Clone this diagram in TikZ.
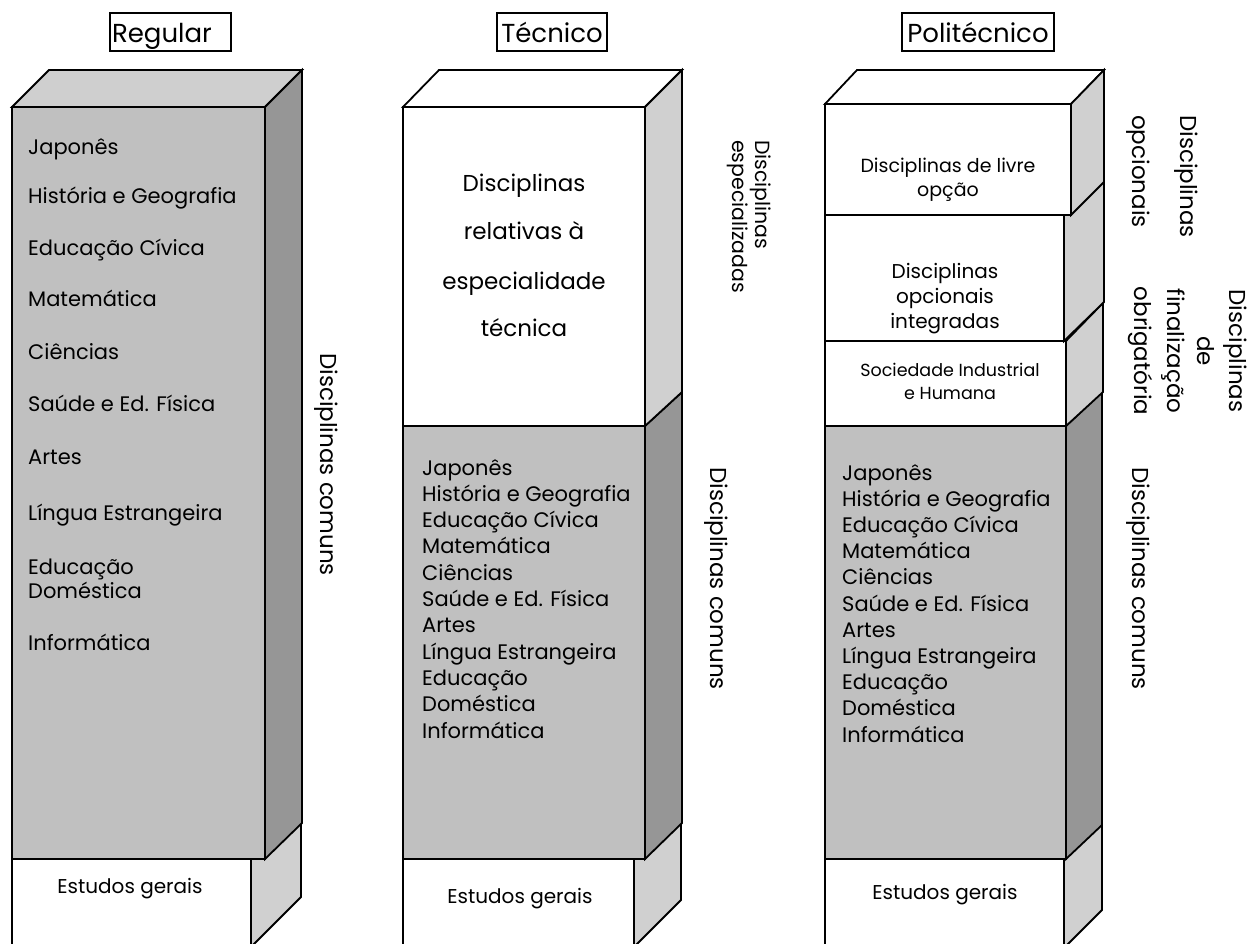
\documentclass[tikz,border=0pt]{standalone}
\usepackage{fontspec}
\setmainfont{Poppins}
\definecolor{frontgray}{HTML}{C0C0C0}
\definecolor{topgray}{HTML}{CFCFCF}
\definecolor{sidegray}{HTML}{D0D0D0}
\definecolor{darkside}{HTML}{969696}
\begin{document}
\begin{tikzpicture}[x=1pt,y=-1pt,
  face/.style={draw=black, line width=1.8pt, line join=miter},
  titlebox/.style={draw=black, line width=1.6pt, font=\fontsize{26}{28}\selectfont, inner xsep=1pt, inner ysep=0pt, text height=30pt, text depth=8pt},
  lst/.style={font=\fontsize{21}{21}\selectfont, anchor=base west, inner sep=0pt},
  blk/.style={align=center, inner sep=0pt, anchor=base},
  rot/.style={rotate=-90, inner sep=0pt, font=\fontsize{23}{23}\selectfont}
]
\useasboundingbox (0,0) rectangle (1248,944);
\begin{scope}
\clip (0,0) rectangle (1248,944);
% ---------------- Regular
\filldraw[face, fill=white] (12,859) rectangle (251,990);
\filldraw[face, fill=sidegray] (251,859) -- (301,809) -- (301,897) -- (251,947) -- cycle;
\filldraw[face, fill=frontgray] (12,107) rectangle (265,859);
\filldraw[face, fill=topgray] (12,107) -- (49,70) -- (302,70) -- (265,107) -- cycle;
\filldraw[face, fill=darkside] (265,107) -- (302,70) -- (302,823) -- (265,859) -- cycle;
% ---------------- Tecnico
\filldraw[face, fill=white] (403,859) rectangle (634,990);
\filldraw[face, fill=sidegray] (634,859) -- (681,812) -- (681,900) -- (634,947) -- cycle;
\filldraw[face, fill=frontgray] (403,426) rectangle (645,859);
\filldraw[face, fill=darkside] (645,426) -- (682,392) -- (682,823) -- (645,859) -- cycle;
\filldraw[face, fill=white] (403,107) rectangle (645,426);
\filldraw[face, fill=white] (403,107) -- (439,70) -- (682,70) -- (645,107) -- cycle;
\filldraw[face, fill=sidegray] (645,107) -- (682,70) -- (682,392) -- (645,426) -- cycle;
% ---------------- Politecnico
\filldraw[face, fill=white] (825,859) rectangle (1064,990);
\filldraw[face, fill=sidegray] (1064,859) -- (1102,821) -- (1102,910) -- (1064,948) -- cycle;
\filldraw[face, fill=frontgray] (825,426) rectangle (1066,859);
\filldraw[face, fill=darkside] (1066,426) -- (1102,392) -- (1102,825) -- (1066,859) -- cycle;
\filldraw[face, fill=white] (825,341) rectangle (1066,426);
\filldraw[face, fill=sidegray] (1066,341) -- (1103,303) -- (1103,392) -- (1066,426) -- cycle;
\filldraw[face, fill=white] (825,215) rectangle (1064,341);
\filldraw[face, fill=sidegray] (1064,215) -- (1104,176) -- (1104,302) -- (1064,341) -- cycle;
\filldraw[face, fill=white] (825,104) rectangle (1071,215);
\filldraw[face, fill=white] (825,104) -- (857,70) -- (1104,70) -- (1071,104) -- cycle;
\filldraw[face, fill=sidegray] (1071,104) -- (1104,70) -- (1104,182) -- (1071,215) -- cycle;
\end{scope}

% ---------------- titles
\node[titlebox, minimum width=121pt, text width=117pt, align=left] (tReg) at (170.5,32) {Regular};
\node[titlebox, minimum width=110pt] (tTec) at (552,32) {Técnico};
\node[titlebox, minimum width=152pt] (tPol) at (978,32) {Politécnico};

% ---------------- Regular list
\node[lst] (r1) at (28,155) {Japonês};
\node[lst] (r2) at (28,204) {História e Geografia};
\node[lst] (r3) at (28,255) {Educação Cívica};
\node[lst] (r4) at (28,306) {Matemática};
\node[lst] (r5) at (28,359) {Ciências};
\node[lst] (r6) at (28,411) {Saúde e Ed. Física};
\node[lst] (r7) at (28,464) {Artes};
\node[lst] (r8) at (28,520) {Língua Estrangeira};
\node[lst] (r9) at (28,574) {Educação};
\node[lst] (r10) at (28,598) {Doméstica};
\node[lst] (r11) at (28,650) {Informática};

% ---------------- Tecnico / Politecnico lists
\foreach \t [count=\i] in {Japonês, História e Geografia, Educação Cívica, Matemática, Ciências, Saúde e Ed. Física, Artes, Língua Estrangeira, Educação, Doméstica, Informática}{
  \node[lst] (t\i) at (422,{475+26.3*(\i-1)}) {\t};
  \node[lst] (p\i) at (842,{480+26.2*(\i-1)}) {\t};
}

% ---------------- block texts
\node[blk, font=\fontsize{23}{23}\selectfont] (tb1) at (524,192) {Disciplinas};
\node[blk, font=\fontsize{23}{23}\selectfont] (tb2) at (524,240) {relativas à};
\node[blk, font=\fontsize{23}{23}\selectfont] (tb3) at (524,289) {especialidade};
\node[blk, font=\fontsize{23}{23}\selectfont] (tb4) at (524,336) {técnica};

\node[blk, font=\fontsize{19}{19}\selectfont] (pa1) at (948,173) {Disciplinas de livre};
\node[blk, font=\fontsize{19}{19}\selectfont] (pa2) at (948,197) {opção};
\node[blk, font=\fontsize{20}{20}\selectfont] (pb1) at (945,278) {Disciplinas};
\node[blk, font=\fontsize{20}{20}\selectfont] (pb2) at (945,303) {opcionais};
\node[blk, font=\fontsize{20}{20}\selectfont] (pb3) at (945,328) {integradas};
\node[blk, font=\fontsize{17.5}{17.5}\selectfont] (pc1) at (950,376) {Sociedade Industrial};
\node[blk, font=\fontsize{17.5}{17.5}\selectfont] (pc2) at (950,399) {e Humana};

\node[blk, font=\fontsize{20}{20}\selectfont] (e1) at (130,893) {Estudos gerais};
\node[blk, font=\fontsize{20}{20}\selectfont] (e2) at (520,903) {Estudos gerais};
\node[blk, font=\fontsize{20}{20}\selectfont] (e3) at (945,899) {Estudos gerais};

% ---------------- rotated labels
\node[rot, anchor=base west] (lr) at (320,353) {Disciplinas comuns};
\node[rot, anchor=base west] (lt) at (710,467) {Disciplinas comuns};
\node[rot, anchor=base west] (lp) at (1132,467) {Disciplinas comuns};

\node[rot, anchor=base west, font=\fontsize{20.5}{20.5}\selectfont] (le1) at (755,140) {Disciplinas};
\node[rot, anchor=base west, font=\fontsize{20.5}{20.5}\selectfont] (le2) at (732,140) {especializadas};

\node[rot, anchor=base west] (lo1) at (1180,115) {Disciplinas};
\node[rot, anchor=base west] (lo2) at (1132,115) {opcionais};

\node[rot, anchor=base] (lf1) at (1229,351) {Disciplinas};
\node[rot, anchor=base] (lf2) at (1197,351) {de};
\node[rot, anchor=base] (lf3) at (1167,351) {finalização};
\node[rot, anchor=base] (lf4) at (1134,351) {obrigatória};
\end{tikzpicture}
\end{document}
